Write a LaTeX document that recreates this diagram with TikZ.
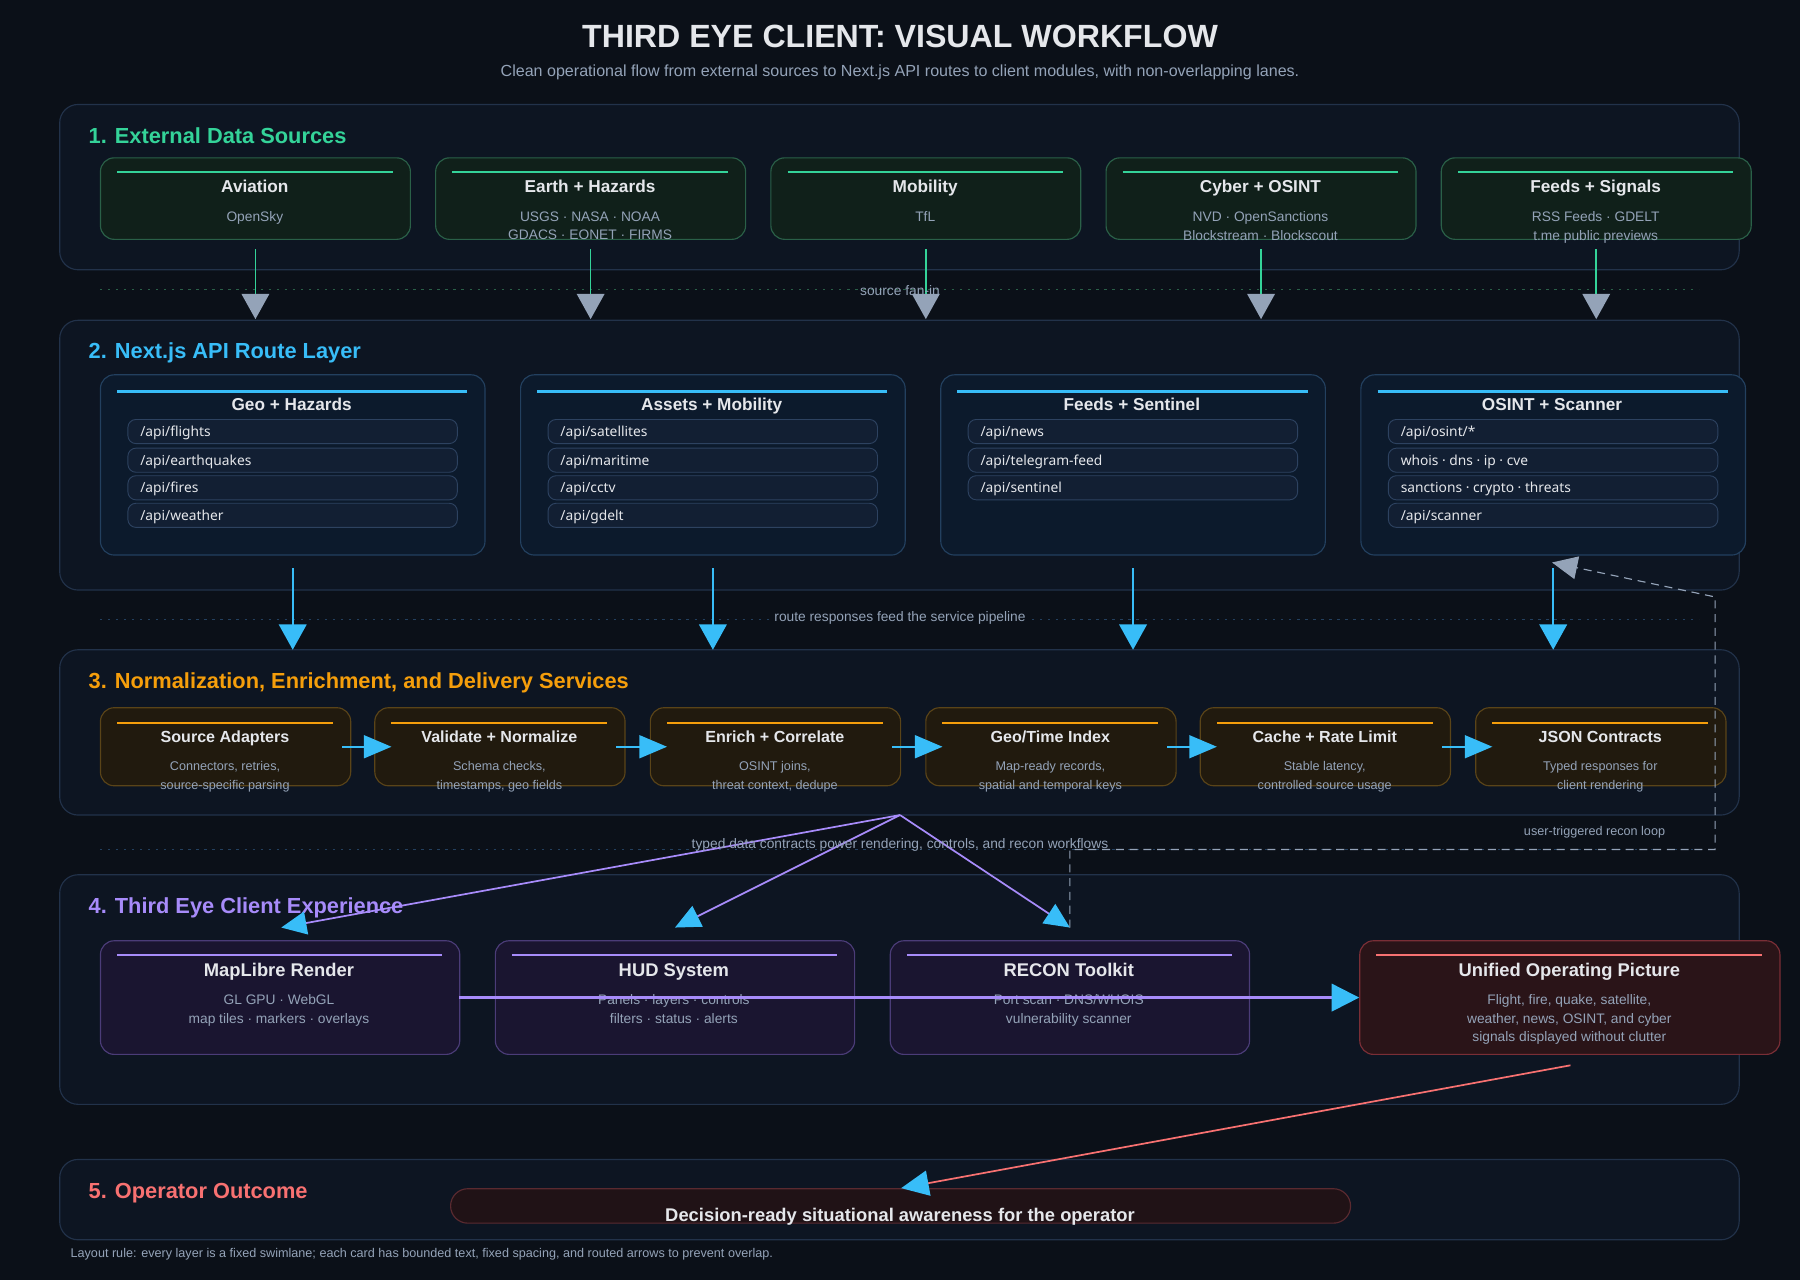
\documentclass[tikz,border=0pt]{standalone}
\usepackage{fontspec}
\setmainfont{Liberation Sans}
\newfontfamily\pillfont{Noto Sans}
\usetikzlibrary{arrows.meta,positioning}

\definecolor{bgc}{HTML}{0B1018}
\definecolor{lanebg}{HTML}{0D1522}
\definecolor{lanebd}{HTML}{22324A}
\definecolor{txt}{HTML}{E5E7EB}
\definecolor{muted}{HTML}{94A3B8}
\definecolor{grn}{HTML}{34D399}
\definecolor{grnfill}{HTML}{10201A}
\definecolor{grnbd}{HTML}{2A6048}
\definecolor{blu}{HTML}{38BDF8}
\definecolor{blufill}{HTML}{0C1A2C}
\definecolor{blubd}{HTML}{23405F}
\definecolor{pillfill}{HTML}{121F33}
\definecolor{pillbd}{HTML}{2D4260}
\definecolor{org}{HTML}{F59E0B}
\definecolor{orgfill}{HTML}{211A0E}
\definecolor{orgbd}{HTML}{5A4418}
\definecolor{pur}{HTML}{A78BFA}
\definecolor{purfill}{HTML}{1A1530}
\definecolor{purbd}{HTML}{4B3C78}
\definecolor{rd}{HTML}{F87171}
\definecolor{rdfill}{HTML}{2A1418}
\definecolor{rdbd}{HTML}{7A2E36}
\definecolor{outfill}{HTML}{201216}
\definecolor{outbd}{HTML}{5A2A30}

\tikzset{
  lane/.style={draw=lanebd, fill=lanebg, rounded corners=16pt, line width=1pt},
  lanelabel/.style={anchor=base west, inner sep=0pt, font=\fontsize{19}{22}\selectfont\bfseries},
  card/.style={anchor=north west, rounded corners=12pt, line width=1pt, inner sep=0pt},
  cardtitle/.style={anchor=base, inner sep=0pt, text=txt, font=\fontsize{15}{18}\selectfont\bfseries},
  cardsub/.style={anchor=north, text=muted, align=center, font=\fontsize{12}{16}\selectfont},
  smallsub/.style={anchor=north, text=muted, align=center, font=\fontsize{11}{16}\selectfont},
  pill/.style={anchor=north west, draw=pillbd, fill=pillfill, rounded corners=7pt,
    minimum width=287pt, minimum height=21pt, inner sep=0pt, line width=0.8pt},
  pilltext/.style={anchor=base west, inner sep=0pt, text=txt, font=\pillfont\fontsize{12}{14}\selectfont},
  divider/.style={dash pattern=on 2pt off 5pt, line width=0.8pt},
  note/.style={text=muted, font=\fontsize{12}{14}\selectfont},
  bigtip/.style={-{Triangle[length=22pt,width=24pt,color=#1]}},
}

\begin{document}
\begin{tikzpicture}[x=1pt,y=-1pt]
\fill[bgc] (0,0) rectangle (1568,1115);
\useasboundingbox (0,0) rectangle (1568,1115);

\node[text=txt, font=\fontsize{28}{32}\selectfont\bfseries] (title) at (784,32) {THIRD EYE CLIENT: VISUAL WORKFLOW};
\node[note, font=\fontsize{14}{16}\selectfont] (subtitle) at (784,63)
  {Clean operational flow from external sources to Next.js API routes to client modules, with non-overlapping lanes.};

% lanes
\draw[lane] (52,91) rectangle (1515,235);
\node[lanelabel, text=grn] (l1) at (77,125) {1. External Data Sources};
\draw[lane] (52,279) rectangle (1515,514);
\node[lanelabel, text=blu] (l2) at (77,312) {2. Next.js API Route Layer};
\draw[lane] (52,566) rectangle (1515,710);
\node[lanelabel, text=org] (l3) at (77,600) {3. Normalization, Enrichment, and Delivery Services};
\draw[lane] (52,762) rectangle (1515,962);
\draw[lane] (52,1010) rectangle (1515,1080);
\node[lanelabel, text=rd] (l5) at (77,1044) {5. Operator Outcome};

% dividers
\draw[divider, grnbd] (87,252) -- (1480,252);
\draw[divider, blubd] (87,540) -- (1480,540);
\draw[divider, blubd] (87,740) -- (1480,740);

% 1. sources
\foreach \i/\x/\t/\s in {1/87/Aviation/OpenSky,
  2/379/Earth + Hazards/{USGS · NASA · NOAA\\GDACS · EONET · FIRMS},
  3/671/Mobility/TfL,
  4/963/Cyber + OSINT/{NVD · OpenSanctions\\Blockstream · Blockscout},
  5/1255/Feeds + Signals/{RSS Feeds · GDELT\\t.me public previews}}{
  \node[card, draw=grnbd, fill=grnfill, minimum width=270pt, minimum height=71pt] (src\i) at (\x,137) {};
  \draw[grn, line width=2pt] (\x+15,150) -- (\x+255,150);
  \node[cardtitle] (src\i t) at (\x+135,168) {\t};
  \node[cardsub] (src\i s) at (\x+135,181) {\s};
}

% 2. routes
\foreach \i/\x/\t in {1/87/Geo + Hazards, 2/453/Assets + Mobility, 3/819/Feeds + Sentinel, 4/1185/OSINT + Scanner}{
  \node[card, draw=blubd, fill=blufill, minimum width=335pt, minimum height=157pt] (api\i) at (\x,326) {};
  \draw[blu, line width=2pt] (\x+15,341) -- (\x+320,341);
  \node[cardtitle] (api\i t) at (\x+167,358) {\t};
}
\foreach \i/\x/\a/\b/\c/\d in {1/87/flights/earthquakes/fires/weather,
  2/453/satellites/maritime/cctv/gdelt}{
  \foreach \j/\y/\r in {1/365/\a, 2/390/\b, 3/414/\c, 4/438/\d}{
    \node[pill] (p\i\j) at (\x+24,\y) {};
    \node[pilltext] at ([xshift=11pt,yshift=-4.5pt]p\i\j.west) {/api/\r};
  }
}
\foreach \j/\y/\r in {1/365/news, 2/390/telegram-feed, 3/414/sentinel}{
  \node[pill] (p3\j) at (843,\y) {};
  \node[pilltext] at ([xshift=11pt,yshift=-4.5pt]p3\j.west) {/api/\r};
}
\foreach \j/\y/\r in {1/365/{/api/osint/*}, 2/390/{whois · dns · ip · cve},
  3/414/{sanctions · crypto · threats}, 4/438/{/api/scanner}}{
  \node[pill] (p4\j) at (1209,\y) {};
  \node[pilltext] at ([xshift=11pt,yshift=-4.5pt]p4\j.west) {\r};
}

% 3. services
\foreach \i/\x/\t/\s in {1/87/Source Adapters/{Connectors, retries,\\source-specific parsing},
  2/326/Validate + Normalize/{Schema checks,\\timestamps, geo fields},
  3/566/Enrich + Correlate/{OSINT joins,\\threat context, dedupe},
  4/806/{Geo/Time Index}/{Map-ready records,\\spatial and temporal keys},
  5/1045/Cache + Rate Limit/{Stable latency,\\controlled source usage},
  6/1285/JSON Contracts/{Typed responses for\\client rendering}}{
  \node[card, draw=orgbd, fill=orgfill, minimum width=218pt, minimum height=68pt] (svc\i) at (\x,616) {};
  \draw[org, line width=2pt] (\x+15,630) -- (\x+203,630);
  \node[cardtitle, font=\fontsize{14}{17}\selectfont\bfseries] (svc\i t) at (\x+109,647) {\t};
  \node[smallsub] (svc\i s) at (\x+109,660) {\s};
}
\foreach \a/\b in {1/2,2/3,3/4,4/5,5/6}
  \draw[blu, line width=1.5pt, -{Triangle[length=24pt,width=20pt]}, shorten <=-8pt, shorten >=-15pt] (svc\a.east) -- (svc\b.west);

% 4. client
\foreach \i/\x/\t/\s in {1/87/MapLibre Render/{GL GPU · WebGL\\map tiles · markers · overlays},
  2/431/HUD System/{Panels · layers · controls\\filters · status · alerts},
  3/775/RECON Toolkit/{Port scan · DNS/WHOIS\\vulnerability scanner}}{
  \node[card, draw=purbd, fill=purfill, minimum width=313pt, minimum height=99pt] (ui\i) at (\x,819) {};
  \draw[pur, line width=2pt] (\x+15,832) -- (\x+298,832);
  \node[cardtitle, font=\fontsize{16}{19}\selectfont\bfseries] (ui\i t) at (\x+156,851) {\t};
  \node[cardsub] (ui\i s) at (\x+156,863) {\s};
}
\node[card, draw=rdbd, fill=rdfill, minimum width=366pt, minimum height=99pt] (uop) at (1184,819) {};
\draw[rd, line width=2pt] (1199,832) -- (1535,832);
\node[cardtitle, font=\fontsize{16}{19}\selectfont\bfseries] (uopt) at (1367,851) {Unified Operating Picture};
\node[cardsub] (uops) at (1367,863) {Flight, fire, quake, satellite,\\weather, news, OSINT, and cyber\\signals displayed without clutter};
\node[lanelabel, text=pur] (l4) at (77,796) {4. Third Eye Client Experience};

% 5. outcome
\node[card, draw=outbd, fill=outfill, rounded corners=15pt, minimum width=784pt, minimum height=30pt] (out) at (392,1035) {};
\node[text=txt, font=\fontsize{16}{19}\selectfont\bfseries] (outt) at (784,1060) {Decision-ready situational awareness for the operator};

% connectors
\foreach \i in {1,...,5}
  \draw[grn, line width=1.5pt, bigtip=muted, shorten <=8pt, shorten >=1pt] (src\i.south) -- (src\i.south |- 0,279);
\node[note, fill=none] (fanin) at (784,253) {source fan-in};
\foreach \i in {1,...,4}
  \draw[blu, line width=1.5pt, bigtip=blu, shorten <=11pt] (api\i.south) -- (api\i.south |- 0,566);
\node[note, fill=bgc, inner sep=2pt] (routes) at (784,538) {route responses feed the service pipeline};

\coordinate (fan) at (784,710);
\coordinate (e1) at (245,808);
\coordinate (e2) at (588,808);
\coordinate (e3) at (932,808);
\foreach \e in {e1,e2,e3}
  \draw[pur, line width=1.5pt, -{Triangle[length=22pt,width=20pt,color=blu]}] (fan) -- (\e);
\node[note] (typed) at (784,736) {typed data contracts power rendering, controls, and recon workflows};
\node[note, font=\fontsize{11}{13}\selectfont] (loopl) at (1389,725) {user-triggered recon loop};

% recon loop
\coordinate (r1) at (1494,740);
\coordinate (r2) at (1494,520);
\draw[muted, line width=1pt, dash pattern=on 7pt off 5pt, -{Triangle[length=22pt,width=20pt]}]
  (e3) -- (932,740) -- (r1) -- (r2) -- (1352,490);

\coordinate (hl) at (400,869);
\draw[pur, line width=2pt, -{Triangle[length=24pt,width=24pt,color=blu]}] (hl) -- (uop.west |- hl);
\coordinate (rs) at (1368,928);
\draw[rd, line width=1.5pt, -{Triangle[length=24pt,width=22pt,color=blu]}] (rs) -- (785,1035);

\node[anchor=west, text=muted, font=\fontsize{11}{13}\selectfont] (footer) at (58,1093)
  {Layout rule: every layer is a fixed swimlane; each card has bounded text, fixed spacing, and routed arrows to prevent overlap.};
\end{tikzpicture}
\end{document}
